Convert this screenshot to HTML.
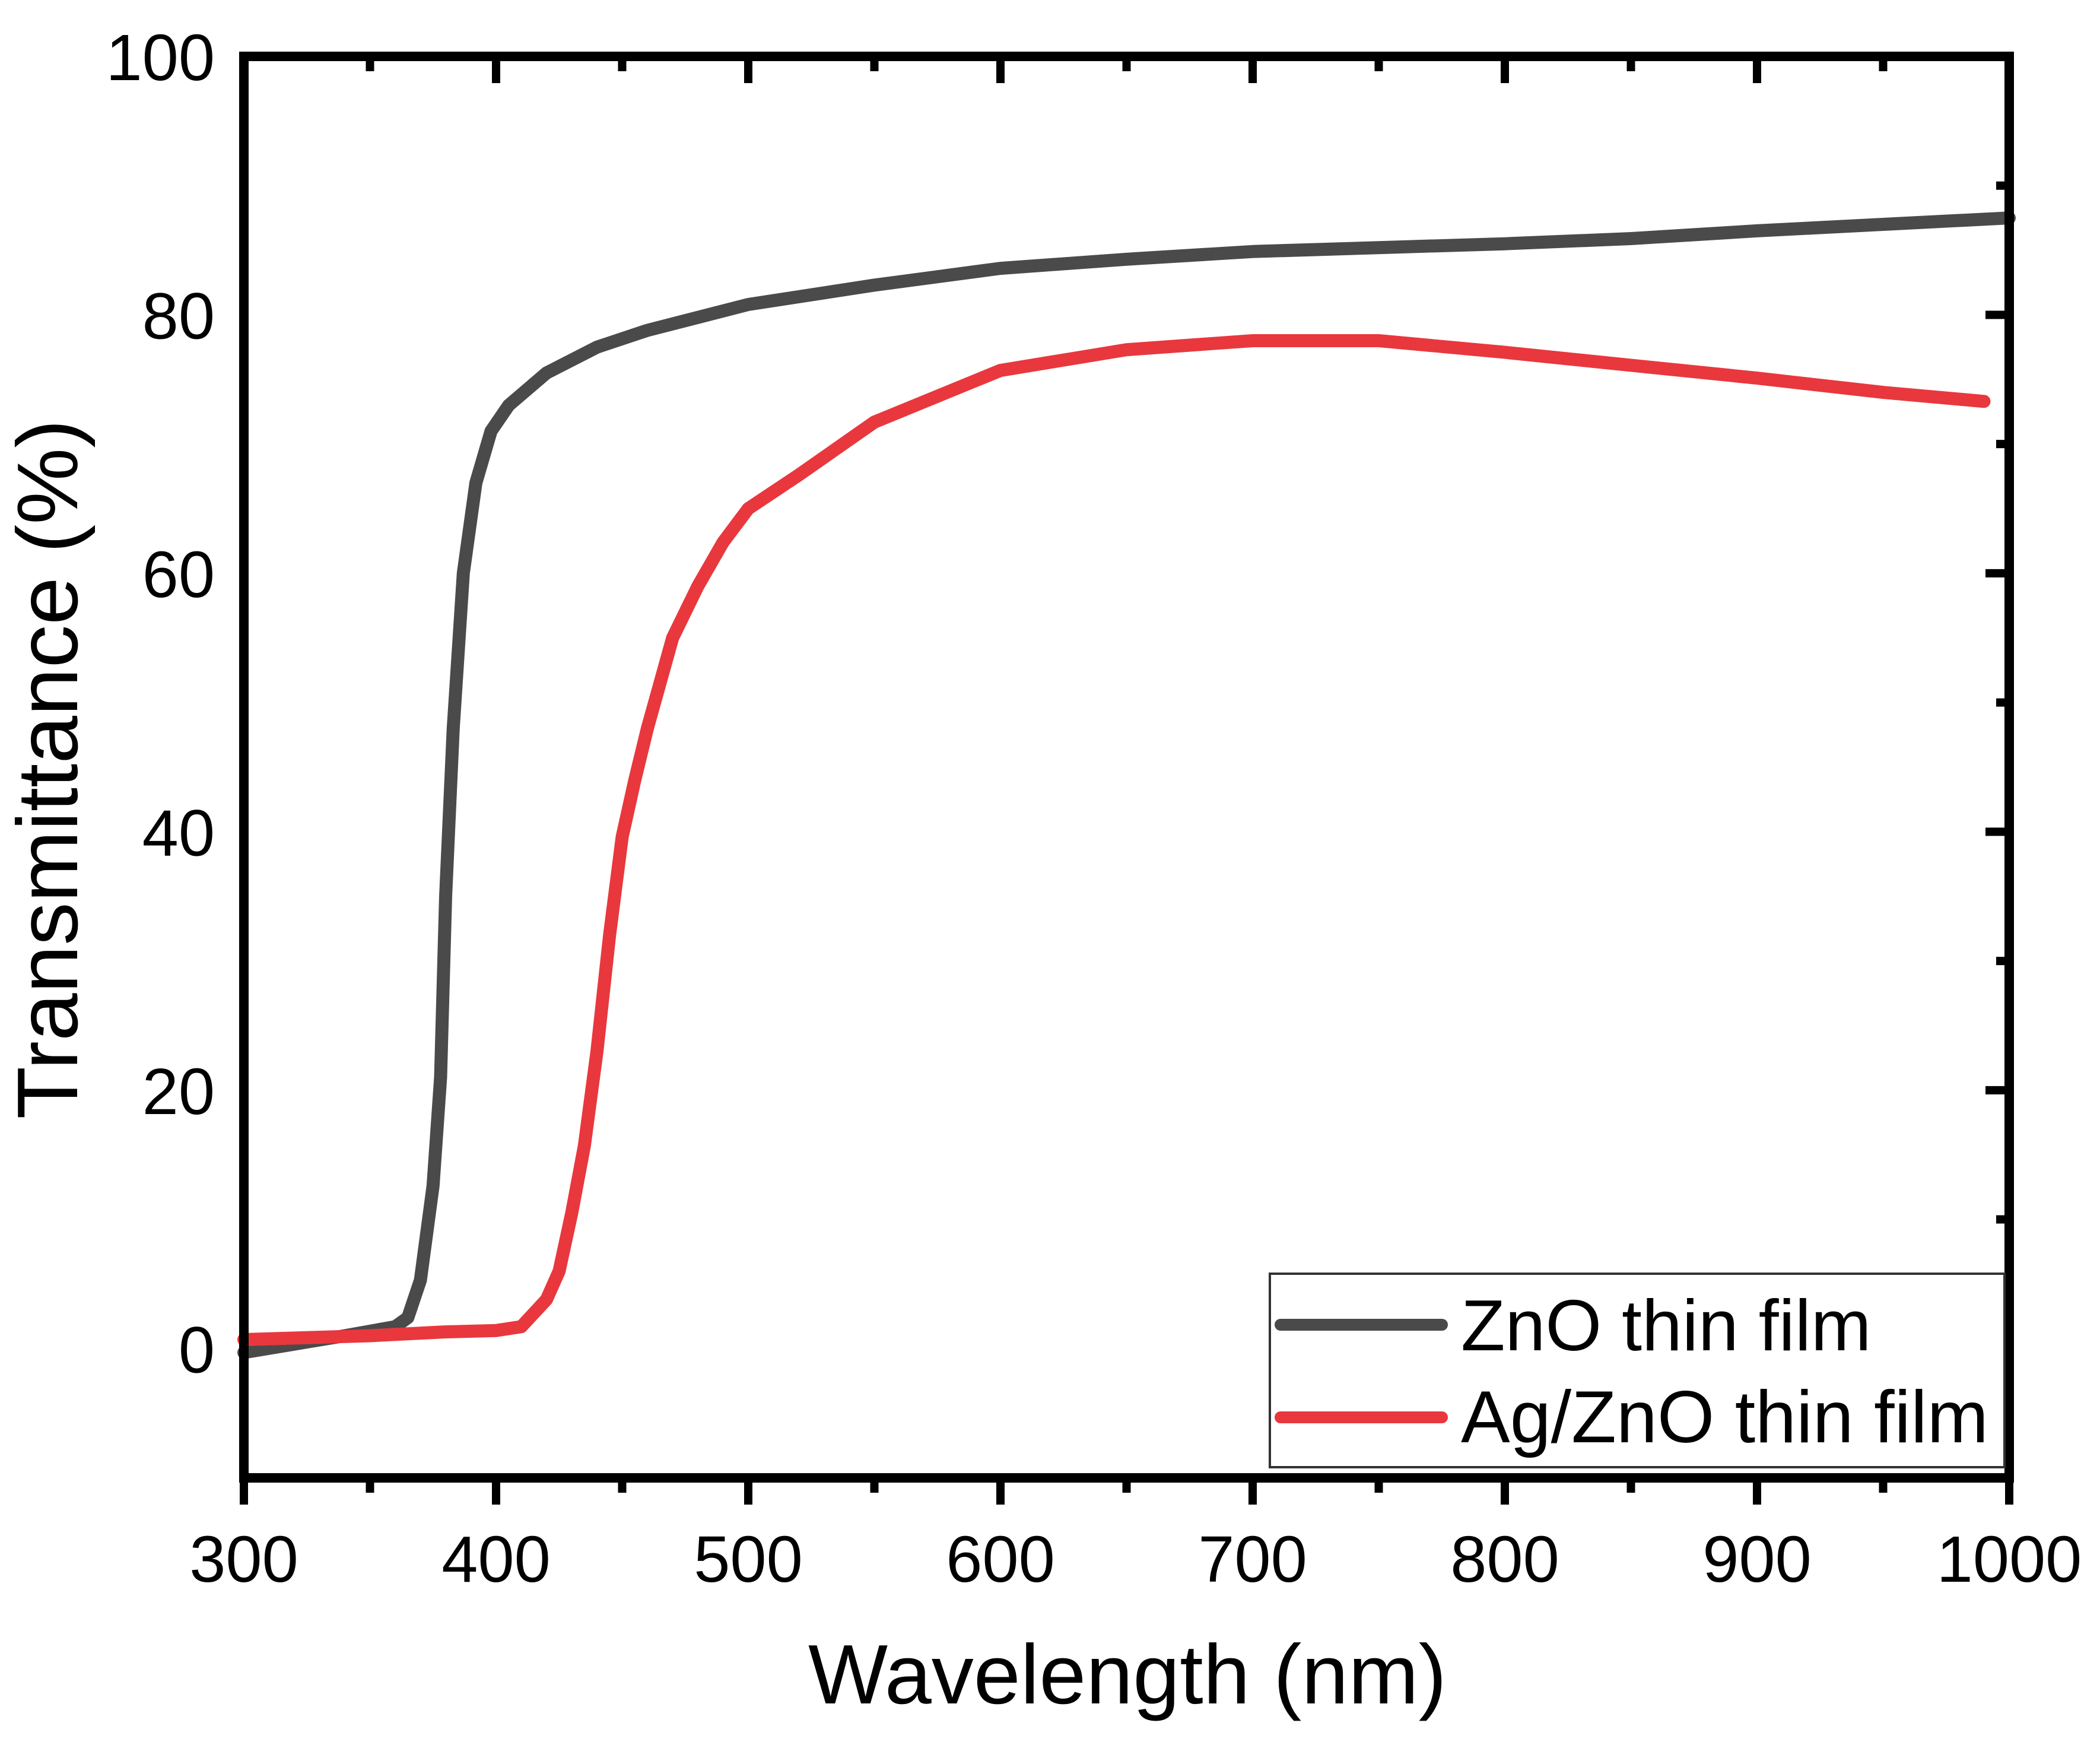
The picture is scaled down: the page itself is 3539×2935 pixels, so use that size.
<!DOCTYPE html>
<html><head><meta charset="utf-8"><style>
html,body{margin:0;padding:0;background:#fff;}
svg{display:block;font-family:"Liberation Sans",Arial,sans-serif;}
</style></head><body>
<svg id="chart" width="3539" height="2935" viewBox="0 0 3539 2935" xmlns="http://www.w3.org/2000/svg">
<rect width="3539" height="2935" fill="#fff"/>
<g id="ticks"></g>
<g id="labels"></g>
<g id="series"></g>
<rect x="411" y="95" width="2975" height="2395" fill="none" stroke="#000" stroke-width="16"/>
<text x="1900" y="2870" font-size="142" text-anchor="middle">Wavelength (nm)</text>
<text transform="translate(130,1296) rotate(-90)" font-size="145" text-anchor="middle">Transmittance (%)</text>
<g>
<rect x="2140" y="2146" width="1238" height="326" fill="#fff" stroke="#333" stroke-width="4"/>
<line x1="2158" y1="2232" x2="2430" y2="2232" stroke="#4a4a4a" stroke-width="20" stroke-linecap="round"/>
<text x="2462" y="2275" font-size="122">ZnO thin film</text>
<line x1="2158" y1="2388" x2="2430" y2="2388" stroke="#e8383d" stroke-width="20" stroke-linecap="round"/>
<text x="2462" y="2430" font-size="124">Ag/ZnO thin film</text>
</g>
</svg>
<script>
const wlZnO = [300,340,360,365,370,375,378,380,383,387,392,398,405,420,440,460,480,500,550,600,650,700,750,800,850,900,950,1000];
const tZnO  = [-0.3,1,1.7,2.4,5.3,12.6,21,35,48,60,67,71,73,75.5,77.5,78.8,79.8,80.8,82.3,83.6,84.3,84.9,85.2,85.5,85.9,86.5,87,87.5];
const wlAg = [300,350,380,400,410,420,425,430,435,440,445,450,455,460,470,480,490,500,520,550,600,650,700,750,800,850,900,950,990];
const tAg  = [0.7,1,1.3,1.4,1.7,3.8,6,10.5,15.7,23,32,39.6,44,48,55,59,62.4,65,67.6,71.7,75.7,77.3,78,78,77.1,76.1,75.1,74,73.3];
const xTicks = [300,400,500,600,700,800,900,1000];
const yTicks = [0,20,40,60,80,100];

const X0=411,X1=3386,Y0=2490,Y1=95;
const xMin=300,xMax=1000,yMin=-10,yMax=100;
function sx(v){return X0+(v-xMin)/(xMax-xMin)*(X1-X0);}
function sy(v){return Y0-(v-yMin)/(yMax-yMin)*(Y0-Y1);}
const NS="http://www.w3.org/2000/svg";
function mk(tag,attrs,parent){const e=document.createElementNS(NS,tag);for(const k in attrs)e.setAttribute(k,attrs[k]);parent.appendChild(e);return e;}
const tg=document.getElementById('ticks'), lg=document.getElementById('labels'), sg=document.getElementById('series');

for(let v=300; v<=1000; v+=50){
  const major = v%100===0;
  const x=sx(v);
  const b=mk('line',{x1:x,y1:Y0,x2:x,y2:Y0+(major?45:25),stroke:'#000','stroke-width':14},tg);
  
  
  const t=mk('line',{x1:x,y1:Y1,x2:x,y2:Y1+(major?45:25),stroke:'#000','stroke-width':14},tg);
  
  
}
for(let v=0; v<=100; v+=10){
  const major=v%20===0;
  const y=sy(v);
  const r=mk('line',{x1:X1,y1:y,x2:X1-(major?40:22),y2:y,stroke:'#000','stroke-width':14},tg);
  
  
}
xTicks.forEach(v=>{
  const t=mk('text',{x:sx(v),y:2665,'font-size':110,'text-anchor':'middle'},lg);
  t.textContent=v;
  
  
});
yTicks.forEach(v=>{
  const t=mk('text',{x:362,y:sy(v)+40,'font-size':110,'text-anchor':'end'},lg);
  t.textContent=v;
  
  
});
function path(xs,ys){return xs.map((x,i)=>(i?'L':'M')+sx(x).toFixed(1)+','+sy(ys[i]).toFixed(1)).join(' ');}
const p1=mk('path',{d:path(wlZnO,tZnO),fill:'none',stroke:'#4a4a4a','stroke-width':22,'stroke-linejoin':'round','stroke-linecap':'round'},sg);


const p2=mk('path',{d:path(wlAg,tAg),fill:'none',stroke:'#e8383d','stroke-width':22,'stroke-linejoin':'round','stroke-linecap':'round'},sg);


</script>
</body></html>
